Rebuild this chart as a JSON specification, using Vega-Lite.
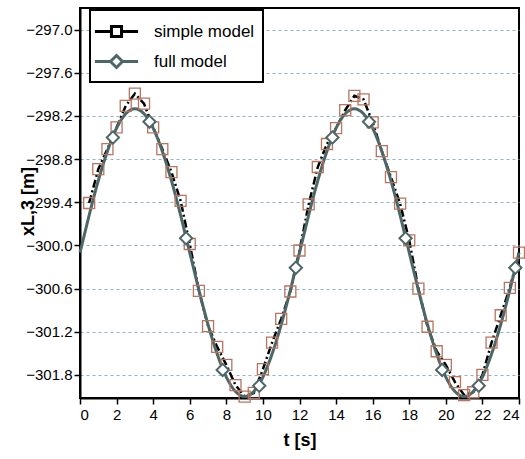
{
  "$schema": "https://vega.github.io/schema/vega-lite/v6.json",
  "width": 439,
  "height": 390,
  "autosize": {"type": "none"},
  "padding": {"left": 80, "top": 8, "right": 6, "bottom": 61},
  "background": "white",
  "config": {
    "font": "Liberation Sans",
    "view": {"stroke": "black", "strokeWidth": 2},
    "axis": {
      "domainColor": "black",
      "domainWidth": 2,
      "tickColor": "black",
      "tickWidth": 1.5,
      "tickSize": 6,
      "labelFont": "Liberation Sans",
      "labelFontSize": 15,
      "labelColor": "black",
      "titleFont": "Liberation Sans",
      "titleFontSize": 18,
      "titleFontWeight": "bold",
      "titleColor": "black"
    }
  },
  "datasets": {
    "simple": [
      {"model": "simple model", "t": 0.5, "x": -299.41},
      {"model": "simple model", "t": 1.0, "x": -298.94},
      {"model": "simple model", "t": 1.5, "x": -298.66},
      {"model": "simple model", "t": 2.0, "x": -298.36},
      {"model": "simple model", "t": 2.5, "x": -298.06},
      {"model": "simple model", "t": 3.0, "x": -297.89},
      {"model": "simple model", "t": 3.5, "x": -298.03},
      {"model": "simple model", "t": 4.0, "x": -298.36},
      {"model": "simple model", "t": 4.5, "x": -298.66},
      {"model": "simple model", "t": 5.0, "x": -298.98},
      {"model": "simple model", "t": 5.5, "x": -299.38},
      {"model": "simple model", "t": 6.0, "x": -299.98},
      {"model": "simple model", "t": 6.5, "x": -300.63},
      {"model": "simple model", "t": 7.0, "x": -301.12},
      {"model": "simple model", "t": 7.5, "x": -301.41},
      {"model": "simple model", "t": 8.0, "x": -301.66},
      {"model": "simple model", "t": 8.5, "x": -301.94},
      {"model": "simple model", "t": 9.0, "x": -302.10},
      {"model": "simple model", "t": 9.5, "x": -302.05},
      {"model": "simple model", "t": 10.0, "x": -301.72},
      {"model": "simple model", "t": 10.5, "x": -301.35},
      {"model": "simple model", "t": 11.0, "x": -301.02},
      {"model": "simple model", "t": 11.5, "x": -300.64},
      {"model": "simple model", "t": 12.0, "x": -300.07},
      {"model": "simple model", "t": 12.5, "x": -299.43},
      {"model": "simple model", "t": 13.0, "x": -298.91},
      {"model": "simple model", "t": 13.5, "x": -298.59},
      {"model": "simple model", "t": 14.0, "x": -298.37},
      {"model": "simple model", "t": 14.5, "x": -298.12},
      {"model": "simple model", "t": 15.0, "x": -297.92},
      {"model": "simple model", "t": 15.5, "x": -297.97},
      {"model": "simple model", "t": 16.0, "x": -298.29},
      {"model": "simple model", "t": 16.5, "x": -298.69},
      {"model": "simple model", "t": 17.0, "x": -299.05},
      {"model": "simple model", "t": 17.5, "x": -299.42},
      {"model": "simple model", "t": 18.0, "x": -299.93},
      {"model": "simple model", "t": 18.5, "x": -300.60},
      {"model": "simple model", "t": 19.0, "x": -301.13},
      {"model": "simple model", "t": 19.5, "x": -301.47},
      {"model": "simple model", "t": 20.0, "x": -301.66},
      {"model": "simple model", "t": 20.5, "x": -301.90},
      {"model": "simple model", "t": 21.0, "x": -302.08},
      {"model": "simple model", "t": 21.5, "x": -302.04},
      {"model": "simple model", "t": 22.0, "x": -301.80},
      {"model": "simple model", "t": 22.5, "x": -301.35},
      {"model": "simple model", "t": 23.0, "x": -300.97},
      {"model": "simple model", "t": 23.5, "x": -300.59},
      {"model": "simple model", "t": 24.0, "x": -300.10}
    ],
    "fullLine": [
      {"model": "full model", "t": 0.0, "x": -300.10},
      {"model": "full model", "t": 0.5, "x": -299.58},
      {"model": "full model", "t": 1.0, "x": -299.10},
      {"model": "full model", "t": 1.5, "x": -298.69},
      {"model": "full model", "t": 2.0, "x": -298.37},
      {"model": "full model", "t": 2.5, "x": -298.17},
      {"model": "full model", "t": 3.0, "x": -298.10},
      {"model": "full model", "t": 3.5, "x": -298.17},
      {"model": "full model", "t": 4.0, "x": -298.37},
      {"model": "full model", "t": 4.5, "x": -298.69},
      {"model": "full model", "t": 5.0, "x": -299.10},
      {"model": "full model", "t": 5.5, "x": -299.58},
      {"model": "full model", "t": 6.0, "x": -300.10},
      {"model": "full model", "t": 6.5, "x": -300.62},
      {"model": "full model", "t": 7.0, "x": -301.10},
      {"model": "full model", "t": 7.5, "x": -301.51},
      {"model": "full model", "t": 8.0, "x": -301.83},
      {"model": "full model", "t": 8.5, "x": -302.03},
      {"model": "full model", "t": 9.0, "x": -302.10},
      {"model": "full model", "t": 9.5, "x": -302.03},
      {"model": "full model", "t": 10.0, "x": -301.83},
      {"model": "full model", "t": 10.5, "x": -301.51},
      {"model": "full model", "t": 11.0, "x": -301.10},
      {"model": "full model", "t": 11.5, "x": -300.62},
      {"model": "full model", "t": 12.0, "x": -300.10},
      {"model": "full model", "t": 12.5, "x": -299.58},
      {"model": "full model", "t": 13.0, "x": -299.10},
      {"model": "full model", "t": 13.5, "x": -298.69},
      {"model": "full model", "t": 14.0, "x": -298.37},
      {"model": "full model", "t": 14.5, "x": -298.17},
      {"model": "full model", "t": 15.0, "x": -298.10},
      {"model": "full model", "t": 15.5, "x": -298.17},
      {"model": "full model", "t": 16.0, "x": -298.37},
      {"model": "full model", "t": 16.5, "x": -298.69},
      {"model": "full model", "t": 17.0, "x": -299.10},
      {"model": "full model", "t": 17.5, "x": -299.58},
      {"model": "full model", "t": 18.0, "x": -300.10},
      {"model": "full model", "t": 18.5, "x": -300.62},
      {"model": "full model", "t": 19.0, "x": -301.10},
      {"model": "full model", "t": 19.5, "x": -301.51},
      {"model": "full model", "t": 20.0, "x": -301.83},
      {"model": "full model", "t": 20.5, "x": -302.03},
      {"model": "full model", "t": 21.0, "x": -302.10},
      {"model": "full model", "t": 21.5, "x": -302.03},
      {"model": "full model", "t": 22.0, "x": -301.83},
      {"model": "full model", "t": 22.5, "x": -301.51},
      {"model": "full model", "t": 23.0, "x": -301.10},
      {"model": "full model", "t": 23.5, "x": -300.62},
      {"model": "full model", "t": 24.0, "x": -300.10}
    ],
    "fullPts": [
      {"model": "full model", "t": 1.8, "x": -298.50},
      {"model": "full model", "t": 3.8, "x": -298.28},
      {"model": "full model", "t": 5.8, "x": -299.90},
      {"model": "full model", "t": 7.8, "x": -301.73},
      {"model": "full model", "t": 9.8, "x": -301.95},
      {"model": "full model", "t": 11.8, "x": -300.31},
      {"model": "full model", "t": 13.8, "x": -298.50},
      {"model": "full model", "t": 15.8, "x": -298.28},
      {"model": "full model", "t": 17.8, "x": -299.90},
      {"model": "full model", "t": 19.8, "x": -301.73},
      {"model": "full model", "t": 21.8, "x": -301.95},
      {"model": "full model", "t": 23.8, "x": -300.31}
    ]
  },
  "encoding": {
    "x": {
      "field": "t",
      "type": "quantitative",
      "scale": {"domain": [0, 24], "nice": false, "zero": false},
      "axis": {
        "title": "t [s]",
        "values": [0, 2, 4, 6, 8, 10, 12, 14, 16, 18, 20, 22, 24],
        "grid": false,
        "labelPadding": 3,
        "titlePadding": 9
      }
    },
    "y": {
      "field": "x",
      "type": "quantitative",
      "scale": {"domain": [-302.12, -296.7], "nice": false, "zero": false},
      "axis": {
        "title": "xL,3 [m]",
        "values": [-297.0, -297.6, -298.2, -298.8, -299.4, -300.0, -300.6, -301.2, -301.8],
        "format": ".1f",
        "grid": true,
        "gridColor": "#8fb3c4",
        "gridDash": [3, 3],
        "gridWidth": 1,
        "labelPadding": 2,
        "titlePadding": -12,
        "titleY": 193,
        "titleAlign": "center",
        "titleAngle": -90
      }
    }
  },
  "layer": [
    {
      "data": {"name": "simple"},
      "mark": {"type": "line", "strokeWidth": 2.5, "strokeDash": [8, 3, 2, 3]},
      "encoding": {
        "color": {
          "field": "model",
          "type": "nominal",
          "scale": {"domain": ["simple model", "full model"], "range": ["black", "#4d6767"]},
          "legend": {
            "title": null,
            "orient": "none",
            "legendX": 10,
            "legendY": 2,
            "symbolSize": 576,
            "symbolStrokeWidth": 3,
            "symbolFillColor": "white",
            "symbolOffset": 5,
            "labelFont": "Liberation Sans",
            "labelFontSize": 17,
            "labelColor": "black",
            "labelOffset": 24,
            "rowPadding": 5,
            "padding": 8,
            "fillColor": "white",
            "strokeColor": "black",
            "zindex": 1,
            "encode": {
              "legend": {"update": {"strokeWidth": {"value": 2}}},
              "symbols": {
                "update": {
                  "shape": {"signal": "datum.value === 'simple model' ? 'M-1.8,0H-0.42M0.42,0H1.8M-0.42,-0.42H0.42V0.42H-0.42Z' : 'M-1.8,0H-0.5M0.5,0H1.8M0,-0.5L0.5,0L0,0.5L-0.5,0Z'"},
                  "fill": {"value": "white"},
                  "fillOpacity": {"value": 1}
                }
              }
            }
          }
        }
      }
    },
    {
      "data": {"name": "fullLine"},
      "mark": {"type": "line", "strokeWidth": 3, "interpolate": "monotone"},
      "encoding": {
        "color": {"field": "model", "type": "nominal"}
      }
    },
    {
      "data": {"name": "simple"},
      "mark": {"type": "point", "shape": "square", "filled": false, "size": 121, "strokeWidth": 1.3, "stroke": "#b57560", "opacity": 1}
    },
    {
      "data": {"name": "fullPts"},
      "mark": {"type": "point", "shape": "diamond", "filled": false, "fill": "white", "fillOpacity": 1, "size": 150, "strokeWidth": 2, "stroke": "#4d6767", "opacity": 1}
    }
  ]
}
